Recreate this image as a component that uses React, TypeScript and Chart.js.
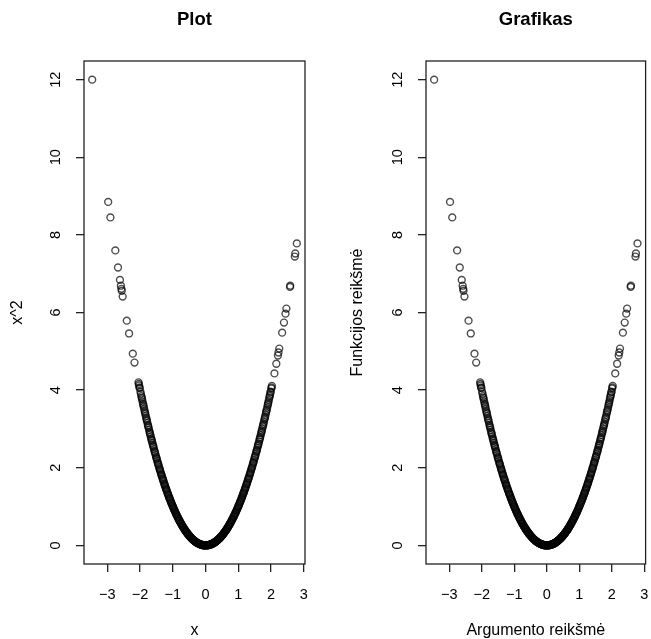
import React, { useEffect, useRef } from "react";
import { Chart, registerables } from "chart.js";

Chart.register(...registerables);

// ---------- data ----------
const panelTitles = ["Plot", "Grafikas"];
const xAxisTitles = ["x", "Argumento reikšmė"];
const yAxisTitles = ["x^2", "Funkcijos reikšmė"];

const xTickValues = [-3, -2, -1, 0, 1, 2, 3];
const xTickLabels = ["\u22123", "\u22122", "\u22121", "0", "1", "2", "3"];
const yTickValues = [0, 2, 4, 6, 8, 10, 12];
const yTickLabels = ["0", "2", "4", "6", "8", "10", "12"];

// sparse tail points (left)
const xTailLeft = [-3.464, -2.975, -2.907, -2.757, -2.676, -2.615, -2.587, -2.571, -2.561, -2.532, -2.406, -2.337, -2.223, -2.171, -2.049, -2.04, -2.03, -2.018, -2.012];
const yTailLeft = [12.0, 8.85, 8.45, 7.6, 7.16, 6.84, 6.69, 6.61, 6.56, 6.41, 5.79, 5.46, 4.94, 4.71, 4.2, 4.16, 4.12, 4.07, 4.05];

// sparse tail points (right)
const xTailRight = [2.789, 2.742, 2.728, 2.587, 2.581, 2.47, 2.443, 2.396, 2.341, 2.252, 2.229, 2.211, 2.163, 2.105, 2.027, 2.017, 2.01];
const yTailRight = [7.78, 7.52, 7.44, 6.69, 6.66, 6.1, 5.97, 5.74, 5.48, 5.07, 4.97, 4.89, 4.68, 4.43, 4.11, 4.07, 4.04];

// dense core (negative side), set A
const xCoreNegA = [-1.99, -1.96, -1.94, -1.91, -1.89, -1.86, -1.84, -1.81, -1.79, -1.76, -1.74, -1.71, -1.69, -1.66, -1.64, -1.61, -1.59, -1.56, -1.54, -1.51, -1.49, -1.46, -1.44, -1.41, -1.39, -1.36, -1.34, -1.31, -1.29, -1.26, -1.24, -1.21, -1.19, -1.16, -1.14, -1.11, -1.09, -1.06, -1.04, -1.01, -0.99, -0.96, -0.94, -0.91, -0.89, -0.86, -0.84, -0.81, -0.79, -0.76, -0.74, -0.71, -0.69, -0.66, -0.64, -0.61, -0.59, -0.56, -0.54, -0.51, -0.49, -0.46, -0.44, -0.41, -0.39, -0.36, -0.34, -0.31, -0.29, -0.26, -0.24, -0.21, -0.19, -0.16, -0.14, -0.11, -0.09, -0.06, -0.04, -0.01];
const yCoreNegA = [3.9601, 3.8416, 3.7636, 3.6481, 3.5721, 3.4596, 3.3856, 3.2761, 3.2041, 3.0976, 3.0276, 2.9241, 2.8561, 2.7556, 2.6896, 2.5921, 2.5281, 2.4336, 2.3716, 2.2801, 2.2201, 2.1316, 2.0736, 1.9881, 1.9321, 1.8496, 1.7956, 1.7161, 1.6641, 1.5876, 1.5376, 1.4641, 1.4161, 1.3456, 1.2996, 1.2321, 1.1881, 1.1236, 1.0816, 1.0201, 0.9801, 0.9216, 0.8836, 0.8281, 0.7921, 0.7396, 0.7056, 0.6561, 0.6241, 0.5776, 0.5476, 0.5041, 0.4761, 0.4356, 0.4096, 0.3721, 0.3481, 0.3136, 0.2916, 0.2601, 0.2401, 0.2116, 0.1936, 0.1681, 0.1521, 0.1296, 0.1156, 0.0961, 0.0841, 0.0676, 0.0576, 0.0441, 0.0361, 0.0256, 0.0196, 0.0121, 0.0081, 0.0036, 0.0016, 0.0001];

// dense core (negative side), set B
const xCoreNegB = [-1.975, -1.95, -1.925, -1.9, -1.875, -1.85, -1.825, -1.8, -1.775, -1.75, -1.725, -1.7, -1.675, -1.65, -1.625, -1.6, -1.575, -1.55, -1.525, -1.5, -1.475, -1.45, -1.425, -1.4, -1.375, -1.35, -1.325, -1.3, -1.275, -1.25, -1.225, -1.2, -1.175, -1.15, -1.125, -1.1, -1.075, -1.05, -1.025, -1.0, -0.975, -0.95, -0.925, -0.9, -0.875, -0.85, -0.825, -0.8, -0.775, -0.75, -0.725, -0.7, -0.675, -0.65, -0.625, -0.6, -0.575, -0.55, -0.525, -0.5, -0.475, -0.45, -0.425, -0.4, -0.375, -0.35, -0.325, -0.3, -0.275, -0.25, -0.225, -0.2, -0.175, -0.15, -0.125, -0.1, -0.075, -0.05, -0.025];
const yCoreNegB = [3.9006, 3.8025, 3.7056, 3.61, 3.5156, 3.4225, 3.3306, 3.24, 3.1506, 3.0625, 2.9756, 2.89, 2.8056, 2.7225, 2.6406, 2.56, 2.4806, 2.4025, 2.3256, 2.25, 2.1756, 2.1025, 2.0306, 1.96, 1.8906, 1.8225, 1.7556, 1.69, 1.6256, 1.5625, 1.5006, 1.44, 1.3806, 1.3225, 1.2656, 1.21, 1.1556, 1.1025, 1.0506, 1.0, 0.9506, 0.9025, 0.8556, 0.81, 0.7656, 0.7225, 0.6806, 0.64, 0.6006, 0.5625, 0.5256, 0.49, 0.4556, 0.4225, 0.3906, 0.36, 0.3306, 0.3025, 0.2756, 0.25, 0.2256, 0.2025, 0.1806, 0.16, 0.1406, 0.1225, 0.1056, 0.09, 0.0756, 0.0625, 0.0506, 0.04, 0.0306, 0.0225, 0.0156, 0.01, 0.0056, 0.0025, 0.0006];

// dense core (positive side), set A
const xCorePosA = [0.02, 0.05, 0.07, 0.1, 0.12, 0.15, 0.17, 0.2, 0.22, 0.25, 0.27, 0.3, 0.32, 0.35, 0.37, 0.4, 0.42, 0.45, 0.47, 0.5, 0.52, 0.55, 0.57, 0.6, 0.62, 0.65, 0.67, 0.7, 0.72, 0.75, 0.77, 0.8, 0.82, 0.85, 0.87, 0.9, 0.92, 0.95, 0.97, 1.0, 1.02, 1.05, 1.07, 1.1, 1.12, 1.15, 1.17, 1.2, 1.22, 1.25, 1.27, 1.3, 1.32, 1.35, 1.37, 1.4, 1.42, 1.45, 1.47, 1.5, 1.52, 1.55, 1.57, 1.6, 1.62, 1.65, 1.67, 1.7, 1.72, 1.75, 1.77, 1.8, 1.82, 1.85, 1.87, 1.9, 1.92, 1.95, 1.97, 1.99];
const yCorePosA = [0.0004, 0.0025, 0.0049, 0.01, 0.0144, 0.0225, 0.0289, 0.04, 0.0484, 0.0625, 0.0729, 0.09, 0.1024, 0.1225, 0.1369, 0.16, 0.1764, 0.2025, 0.2209, 0.25, 0.2704, 0.3025, 0.3249, 0.36, 0.3844, 0.4225, 0.4489, 0.49, 0.5184, 0.5625, 0.5929, 0.64, 0.6724, 0.7225, 0.7569, 0.81, 0.8464, 0.9025, 0.9409, 1.0, 1.0404, 1.1025, 1.1449, 1.21, 1.2544, 1.3225, 1.3689, 1.44, 1.4884, 1.5625, 1.6129, 1.69, 1.7424, 1.8225, 1.8769, 1.96, 2.0164, 2.1025, 2.1609, 2.25, 2.3104, 2.4025, 2.4649, 2.56, 2.6244, 2.7225, 2.7889, 2.89, 2.9584, 3.0625, 3.1329, 3.24, 3.3124, 3.4225, 3.4969, 3.61, 3.6864, 3.8025, 3.8809, 3.9601];

// dense core (positive side), set B
const xCorePosB = [0.035, 0.06, 0.085, 0.11, 0.135, 0.16, 0.185, 0.21, 0.235, 0.26, 0.285, 0.31, 0.335, 0.36, 0.385, 0.41, 0.435, 0.46, 0.485, 0.51, 0.535, 0.56, 0.585, 0.61, 0.635, 0.66, 0.685, 0.71, 0.735, 0.76, 0.785, 0.81, 0.835, 0.86, 0.885, 0.91, 0.935, 0.96, 0.985, 1.01, 1.035, 1.06, 1.085, 1.11, 1.135, 1.16, 1.185, 1.21, 1.235, 1.26, 1.285, 1.31, 1.335, 1.36, 1.385, 1.41, 1.435, 1.46, 1.485, 1.51, 1.535, 1.56, 1.585, 1.61, 1.635, 1.66, 1.685, 1.71, 1.735, 1.76, 1.785, 1.81, 1.835, 1.86, 1.885, 1.91, 1.935, 1.96, 1.985];
const yCorePosB = [0.0012, 0.0036, 0.0072, 0.0121, 0.0182, 0.0256, 0.0342, 0.0441, 0.0552, 0.0676, 0.0812, 0.0961, 0.1122, 0.1296, 0.1482, 0.1681, 0.1892, 0.2116, 0.2352, 0.2601, 0.2862, 0.3136, 0.3422, 0.3721, 0.4032, 0.4356, 0.4692, 0.5041, 0.5402, 0.5776, 0.6162, 0.6561, 0.6972, 0.7396, 0.7832, 0.8281, 0.8742, 0.9216, 0.9702, 1.0201, 1.0712, 1.1236, 1.1772, 1.2321, 1.2882, 1.3456, 1.4042, 1.4641, 1.5252, 1.5876, 1.6512, 1.7161, 1.7822, 1.8496, 1.9182, 1.9881, 2.0592, 2.1316, 2.2052, 2.2801, 2.3562, 2.4336, 2.5122, 2.5921, 2.6732, 2.7556, 2.8392, 2.9241, 3.0102, 3.0976, 3.1862, 3.2761, 3.3672, 3.4596, 3.5532, 3.6481, 3.7442, 3.8416, 3.9402];

const xAll = [...xTailLeft, ...xCoreNegA, ...xCoreNegB, ...xCorePosA, ...xCorePosB, ...xTailRight];
const yAll = [...yTailLeft, ...yCoreNegA, ...yCoreNegB, ...yCorePosA, ...yCorePosB, ...yTailRight];

// ---------- layout ----------
const W = 651;
const H = 639;
const FONT = "'Liberation Sans', Arial, Helvetica, sans-serif";

const boxPlugin = {
  id: "rbox",
  afterDraw(chart: any) {
    const { ctx, chartArea } = chart;
    ctx.save();
    ctx.strokeStyle = "#222";
    ctx.lineWidth = 1.3;
    ctx.strokeRect(chartArea.left, chartArea.top, chartArea.right - chartArea.left, chartArea.bottom - chartArea.top);
    ctx.restore();
  },
};

function Panel({ idx, left, width, yWidth, padRight, yTitlePad }: any) {
  const ref = useRef<HTMLCanvasElement>(null);
  useEffect(() => {
    const points = xAll.map((x, i) => ({ x, y: yAll[i] }));
    const chart = new Chart(ref.current as HTMLCanvasElement, {
      type: "scatter",
      data: {
        datasets: [
          {
            data: points,
            pointStyle: "circle",
            pointRadius: 3.45,
            pointBorderWidth: 1.4,
            pointBorderColor: "rgba(0,0,0,0.7)",
            pointBackgroundColor: "rgba(0,0,0,0)",
            showLine: false,
          },
        ],
      },
      options: {
        responsive: false,
        animation: false,
        events: [],
        layout: { padding: { left: 0, right: padRight, top: 0, bottom: 0 } },
        plugins: {
          legend: { display: false },
          tooltip: { enabled: false },
          title: {
            display: true,
            text: panelTitles[idx],
            fullSize: false,
            color: "#000",
            font: { family: FONT, size: 18.5, weight: "bold", lineHeight: 1 },
            padding: { top: 10.75, bottom: 31.75 },
          },
        },
        scales: {
          x: {
            type: "linear",
            min: -3.714,
            max: 3.039,
            afterBuildTicks: (s: any) => {
              s.ticks = xTickValues.map((v) => ({ value: v }));
            },
            afterFit: (s: any) => {
              s.height = 75;
            },
            grid: { display: true, drawOnChartArea: false, drawTicks: true, tickLength: 8, color: "#222", lineWidth: 1.3 },
            border: { display: false },
            ticks: {
              color: "#000",
              font: { family: FONT, size: 14.5, lineHeight: 3.15 },
              padding: 0,
              maxRotation: 0,
              minRotation: 0,
              callback: (v: any) => {
                const i = xTickValues.indexOf(Number(v));
                return i >= 0 ? xTickLabels[i] : "";
              },
            },
            title: {
              display: true,
              text: xAxisTitles[idx],
              color: "#000",
              font: { family: FONT, size: 16, lineHeight: 1 },
              padding: { top: 0, bottom: 0 },
            },
          },
          y: {
            type: "linear",
            min: -0.48,
            max: 12.48,
            afterBuildTicks: (s: any) => {
              s.ticks = yTickValues.map((v) => ({ value: v }));
            },
            afterFit: (s: any) => {
              s.width = yWidth;
            },
            grid: { display: true, drawOnChartArea: false, drawTicks: true, tickLength: 8, color: "#222", lineWidth: 1.3 },
            border: { display: false },
            ticks: {
              color: "#000",
              font: { family: FONT, size: 14.5 },
              padding: 12,
              minRotation: 90,
              maxRotation: 90,
              crossAlign: "center",
              callback: (v: any) => {
                const i = yTickValues.indexOf(Number(v));
                return i >= 0 ? yTickLabels[i] : "";
              },
            },
            title: {
              display: true,
              text: yAxisTitles[idx],
              color: "#000",
              font: { family: FONT, size: 16, lineHeight: 1 },
              padding: { top: yTitlePad, bottom: 0 },
            },
          },
        },
      } as any,
      plugins: [boxPlugin],
    });
    return () => chart.destroy();
  }, []);
  return (
    <canvas
      ref={ref}
      width={width}
      height={H}
      style={{ position: "absolute", left, top: 0, width, height: H }}
    />
  );
}

export default function App() {
  return (
    <div style={{ position: "fixed", left: 0, top: 0, width: W, height: H, background: "#fff" }}>
      <Panel idx={0} left={0} width={325} yWidth={84} padRight={20} yTitlePad={10} />
      <Panel idx={1} left={325} width={326} yWidth={101} padRight={5} yTitlePad={25} />
    </div>
  );
}
